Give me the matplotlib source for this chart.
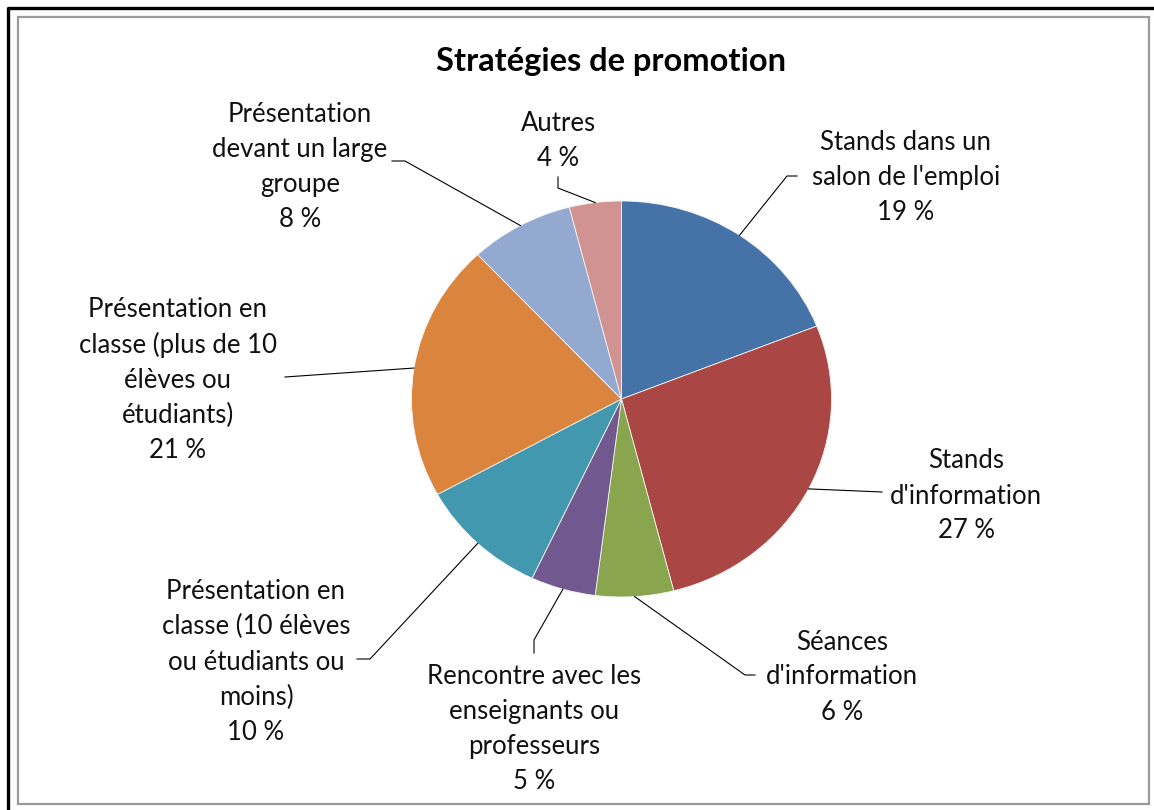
import numpy as np
import matplotlib
matplotlib.use("Agg")
import matplotlib.pyplot as plt
from matplotlib.patches import Rectangle

# ---- data ----
title = "Stratégies de promotion"
categories = [
    "Stands dans un\nsalon de l'emploi",
    "Stands\nd'information",
    "Séances\nd'information",
    "Rencontre avec les\nenseignants ou\nprofesseurs",
    "Présentation en\nclasse (10 élèves\nou étudiants ou\nmoins)",
    "Présentation en\nclasse (plus de 10\nélèves ou\nétudiants)",
    "Présentation\ndevant un large\ngroupe",
    "Autres",
]
values = [19, 27, 6, 5, 10, 21, 8, 4]
colors = ["#4572A7", "#AA4643", "#89A54E", "#71588F",
          "#4198AF", "#DB843D", "#93A9CF", "#D19392"]

# ---- layout (pixels) ----
W, H = 1154, 810
cx, cy, rx, ry = 621.5, 399.0, 210.0, 198.0
label_pos = [(906, 178), (966, 496), (842, 677), (534, 729),
             (256, 662), (178, 380), (300, 167), (558, 141)]
elbows = [[(787, 176), (797, 176)],
          [(882, 492)],
          [(745, 675), (755, 675)],
          [(534, 640), (534, 653)],
          [(370, 659), (357, 659)],
          [(285, 377)],
          [(405, 161), (392, 161)],
          [(558, 188), (558, 177)]]

plt.rcParams['font.family'] = ['Lato', 'DejaVu Sans']
fig = plt.figure(figsize=(W / 100, H / 100), dpi=100)
fig.patch.set_facecolor("white")

# pie axes
axp = fig.add_axes([(cx - rx) / W, (H - (cy + ry)) / H, 2 * rx / W, 2 * ry / H])
axp.pie(values, colors=colors, startangle=90, counterclock=False,
        radius=1.0, wedgeprops=dict(linewidth=0.6, edgecolor="#f4f4f4"))
axp.set_aspect('auto')
axp.set_xlim(-1, 1)
axp.set_ylim(-1, 1)
axp.axis('off')

# overlay axes in pixel coordinates
ov = fig.add_axes([0, 0, 1, 1], zorder=5)
ov.set_xlim(0, W)
ov.set_ylim(H, 0)
ov.axis('off')
ov.patch.set_alpha(0)

# borders
ov.plot([7.5, 7.5, W], [H, 7.5, 7.5], color="black", lw=2.4, solid_capstyle='butt')
ov.add_patch(Rectangle((17.5, 16.5), 1131, 787, fill=False, edgecolor="#9a9a9a", lw=1.6))

# title
ov.text(611, 62, title, ha='center', va='center', fontsize=23.5, fontweight='bold')

# labels with leader lines
total = float(sum(values))
cum = np.cumsum([0] + values[:-1])
for i, (cat, v) in enumerate(zip(categories, values)):
    mid = (cum[i] + v / 2.0) / total * 2 * np.pi
    ax_ = cx + rx * np.sin(mid)
    ay_ = cy - ry * np.cos(mid)
    pts = [(ax_, ay_)] + elbows[i]
    ov.plot([p[0] for p in pts], [p[1] for p in pts], color="black", lw=0.8)
    lx, ly = label_pos[i]
    ov.text(lx, ly, f"{cat}\n{v} %", ha='center', va='center',
            multialignment='center', fontsize=18.5, linespacing=1.5, color="#111111")

fig.savefig("out.png", dpi=100, facecolor="white")
